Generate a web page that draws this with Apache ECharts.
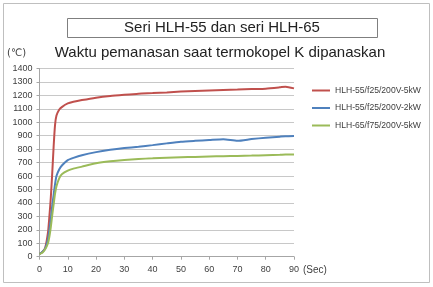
<!DOCTYPE html>
<html>
<head>
<meta charset="utf-8">
<script src="https://cdn.jsdelivr.net/npm/echarts@6/dist/echarts.min.js"></script>
<style>html,body{margin:0;padding:0;background:#fff}#c{width:433px;height:287px}</style>
</head>
<body>
<div id="c"></div>
<script>
var times = [0,1,2,3,3.5,4,4.5,5,5.5,6,7,8,10,12,15,20,25,30,35,40,45,50,55,60,65,70,75,80,85,87,90];
var red55_5kW = [20,35,65,180,300,440,620,820,980,1050,1095,1115,1140,1152,1165,1183,1196,1205,1213,1217,1222,1228,1232,1236,1240,1243,1247,1250,1260,1265,1252];
var blue55_2kW = [20,35,60,130,200,280,380,460,540,600,650,680,718,735,755,778,795,808,818,830,843,855,862,868,874,862,875,885,893,896,898];
var green65_5kW = [20,30,55,100,150,220,310,390,470,525,585,615,640,655,670,695,710,720,727,732,737,740,742,745,748,750,752,755,758,760,760];
var seriesNames = ['HLH-55/f25/200V-5kW','HLH-55/f25/200V-2kW','HLH-65/f75/200V-5kW'];
var titleText = 'Seri HLH-55 dan seri HLH-65';
var subtitleText = 'Waktu pemanasan saat termokopel K dipanaskan';

function pairs(v){ return times.map(function(t,i){ return [t, v[i]]; }); }
var colors = ['#c0504d','#4f81bd','#9bbb59'];
var font = '"Liberation Sans", Arial, sans-serif';
var chart = echarts.init(document.getElementById('c'));
chart.setOption({
  animation: false,
  textStyle: {fontFamily: font},
  grid: {left: 39.5, right: 139, top: 68.5, bottom: 30.3, containLabel: false},
  xAxis: {
    type: 'value', min: 0, max: 90, interval: 10,
    axisLine: {show: true, lineStyle: {color: '#a6a6a6'}},
    axisTick: {show: true, length: 3, lineStyle: {color: '#a6a6a6'}},
    axisLabel: {fontSize: 9, color: '#404040', margin: 8, fontFamily: font},
    splitLine: {show: false}
  },
  yAxis: {
    type: 'value', min: 0, max: 1400, interval: 100,
    axisLine: {show: true, lineStyle: {color: '#a6a6a6'}},
    axisTick: {show: true, length: 3, lineStyle: {color: '#a6a6a6'}},
    axisLabel: {fontSize: 9, color: '#404040', margin: 7, fontFamily: font, formatter: function(v){ return String(v); }},
    splitLine: {show: true, lineStyle: {color: '#c8c8c8'}}
  },
  legend: {
    orient: 'vertical', left: 312, top: 86, padding: 0, itemWidth: 18, itemHeight: 2, itemGap: 8.5,
    icon: 'rect',
    textStyle: {fontSize: 8.6, color: '#404040', fontFamily: font},
    data: seriesNames
  },
  graphic: [
    {type: 'rect', shape: {x: 3.5, y: 3.5, width: 426, height: 279}, style: {fill: 'none', stroke: '#bfbfbf', lineWidth: 1}, silent: true},
    {type: 'rect', shape: {x: 67.5, y: 18.5, width: 310, height: 19}, style: {fill: 'none', stroke: '#7f7f7f', lineWidth: 1}, silent: true},
    {type: 'text', x: 222, y: 28, style: {text: titleText, fontSize: 15, fill: '#222', align: 'center', verticalAlign: 'middle', fontFamily: font}},
    {type: 'text', x: 220, y: 53, style: {text: subtitleText, fontSize: 15, fill: '#222', align: 'center', verticalAlign: 'middle', fontFamily: font}},
    {type: 'text', x: 7, y: 53, style: {text: '(℃)', fontSize: 10, fill: '#404040', align: 'left', verticalAlign: 'middle', fontFamily: '"DejaVu Sans", sans-serif'}},
    {type: 'text', x: 303, y: 270, style: {text: '(Sec)', fontSize: 10, fill: '#404040', align: 'left', verticalAlign: 'middle', fontFamily: font}}
  ],
  series: [
    {name: seriesNames[0], type: 'line', data: pairs(red55_5kW), showSymbol: false, smooth: 0.2, lineStyle: {width: 2, color: colors[0]}, itemStyle: {color: colors[0]}},
    {name: seriesNames[1], type: 'line', data: pairs(blue55_2kW), showSymbol: false, smooth: 0.2, lineStyle: {width: 2, color: colors[1]}, itemStyle: {color: colors[1]}},
    {name: seriesNames[2], type: 'line', data: pairs(green65_5kW), showSymbol: false, smooth: 0.2, lineStyle: {width: 2, color: colors[2]}, itemStyle: {color: colors[2]}}
  ]
});
</script>
</body>
</html>
